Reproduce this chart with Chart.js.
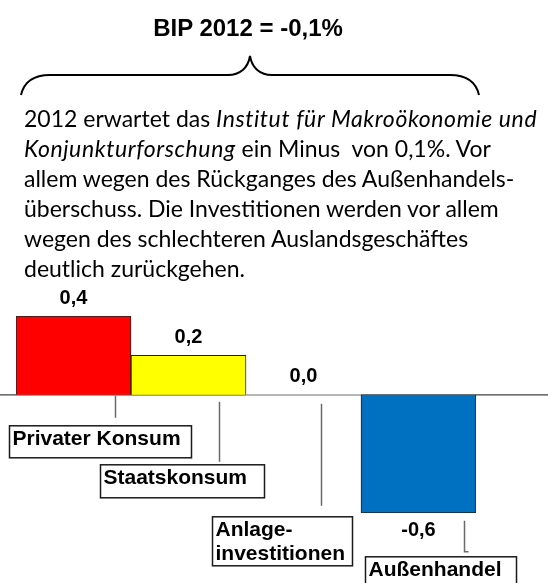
<!DOCTYPE html>
<html>
<head>
<meta charset="utf-8">
<script src="https://cdn.jsdelivr.net/npm/chart.js@4"></script>
<style>
  html, body { margin: 0; padding: 0; background: #fff; }
  #wrap { position: relative; width: 548px; height: 583px; overflow: hidden; }
  #chart { position: absolute; left: 0; top: 0; }
  #title {
    position: absolute; left: 0; width: 496px; top: 13px; text-align: center;
    font: bold 24px "Liberation Sans", Arial, sans-serif; color: #000; line-height: 30px;
  }
  #brace { position: absolute; left: 0; top: 0; }
  #text {
    position: absolute; left: 24px; top: 103px; white-space: nowrap;
    font: 23px Lato, "Open Sans", sans-serif; line-height: 30px; color: #000;
  }
  #text i { letter-spacing: 0.6px; }
</style>
</head>
<body>
<div id="wrap">
  <canvas id="chart" width="548" height="583"></canvas>
  <svg id="brace" width="548" height="110">
    <path d="M21 95 C 24 82, 34 75, 50 75 L 228 75 C 240 75, 248 68, 250 56 C 252 68, 260 75, 272 75 L 450 75 C 466 75, 476 82, 479 95"
          fill="none" stroke="#000" stroke-width="2"/>
  </svg>
  <div id="title">BIP 2012 = -0,1%</div>
  <div id="text">
    2012 erwartet das <i>Institut für Makroökonomie und</i><br>
    <i>Konjunkturforschung</i> ein Minus&nbsp; von 0,1%. Vor<br>
    allem wegen des Rückganges des Außenhandels-<br>
    überschuss. Die Investitionen werden vor allem<br>
    wegen des schlechteren Auslandsgeschäftes<br>
    deutlich zurückgehen.
  </div>
</div>
<script>
// --- Daten ---
const categories = ["Privater Konsum", "Staatskonsum", ["Anlage-", "investitionen"], "Außenhandel"];
const values     = [0.4, 0.2, 0.0, -0.6];
const barColors  = ["#FF0000", "#FFFF00", "#FFFFFF", "#0070C0"];

// Lage der Beschriftungskästen relativ zu Kategoriemitte / Nulllinie (px)
const callouts = [
  { box: [-64, 31, 182, 32],  line: [42, 1, 23] },
  { box: [-88, 70, 164, 33],  line: [31, 7, 67] },
  { box: [-91, 122, 140, 49], line: [18, 9, 111] },
  { box: [-53, 162, 151, 40], line: [46, 126, 157], hook: 4 },
];

const fmt = v => v.toFixed(1).replace(".", ",");

const labelPlugin = {
  id: "labels",
  beforeDatasetsDraw(chart) {
    const ctx = chart.ctx;
    const y0 = chart.scales.y.getPixelForValue(0);
    ctx.save();
    ctx.strokeStyle = "#404040";
    ctx.lineWidth = 1.2;
    ctx.beginPath();
    ctx.moveTo(0, y0);
    ctx.lineTo(chart.width, y0);
    ctx.stroke();
    ctx.restore();
  },
  afterDatasetsDraw(chart) {
    const ctx = chart.ctx;
    const y0 = chart.scales.y.getPixelForValue(0);
    const bars = chart.getDatasetMeta(0).data;
    ctx.save();
    ctx.fillStyle = "#000";
    ctx.textAlign = "center";
    ctx.textBaseline = "middle";
    ctx.font = "bold 20px 'Liberation Sans', Arial, sans-serif";
    bars.forEach((bar, i) => {
      const v = values[i];
      const y = v < 0 ? bar.y + 17 : bar.y - 18;
      ctx.fillText(fmt(v), bar.x, y);
    });

    ctx.font = "bold 21px 'Liberation Sans', Arial, sans-serif";
    ctx.textAlign = "left";
    ctx.textBaseline = "alphabetic";
    bars.forEach((bar, i) => {
      const c = callouts[i];
      const cx = bar.x;
      // Verbindungslinie
      ctx.strokeStyle = "#6a6a6a";
      ctx.lineWidth = 1.5;
      ctx.beginPath();
      ctx.moveTo(cx + c.line[0], y0 + c.line[1]);
      ctx.lineTo(cx + c.line[0], y0 + c.line[2]);
      if (c.hook) ctx.lineTo(cx + c.line[0] + c.hook, y0 + c.line[2]);
      ctx.stroke();
      // Kasten
      const [bx, by, bw, bh] = c.box;
      ctx.fillStyle = "#fff";
      ctx.fillRect(cx + bx, y0 + by, bw, bh);
      ctx.strokeStyle = "#1a1a1a";
      ctx.lineWidth = 1.5;
      ctx.strokeRect(cx + bx, y0 + by, bw, bh);
      // Text
      ctx.fillStyle = "#000";
      const lines = [].concat(categories[i]);
      lines.forEach((t, k) => ctx.fillText(t, cx + bx + 3, y0 + by + 19 + k * 24));
    });
    ctx.restore();
  }
};

new Chart(document.getElementById("chart"), {
  type: "bar",
  data: {
    labels: categories,
    datasets: [{
      data: values,
      backgroundColor: barColors,
      borderColor: "#222",
      borderWidth: values.map(v => (v === 0 ? 0 : 1)),
      barPercentage: 1,
      categoryPercentage: 1,
    }],
  },
  options: {
    responsive: false,
    animation: false,
    layout: { padding: { top: 316, bottom: 70, left: 16, right: 72 } },
    scales: {
      x: { display: false, offset: true },
      y: { display: false, min: -0.6, max: 0.4 },
    },
    plugins: {
      legend: { display: false },
      tooltip: { enabled: false },
    },
  },
  plugins: [labelPlugin],
});
</script>
</body>
</html>
